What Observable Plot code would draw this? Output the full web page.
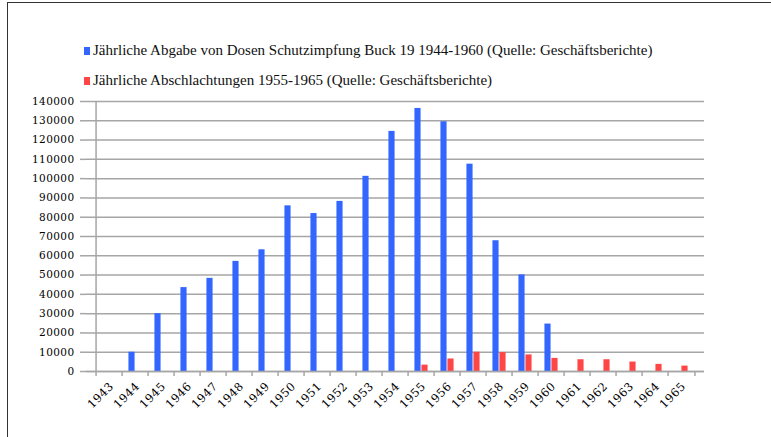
<!DOCTYPE html>
<html><head><meta charset="utf-8">
<script src="https://cdn.jsdelivr.net/npm/d3@7"></script>
<script src="https://cdn.jsdelivr.net/npm/@observablehq/plot@0.6"></script>
<style>
body{margin:0;background:#fff}
#wrap{position:relative;width:771px;height:437px;overflow:hidden;font-family:"Liberation Serif",serif;background:#fff}
#frame{position:absolute;left:7px;top:2px;right:-5px;bottom:-5px;border-left:1.5px solid #333;border-top:1.5px solid #333}
#chart{position:absolute;left:0;top:0}
#chart svg text{font-family:"DejaVu Serif",serif !important;letter-spacing:0.4px;fill:#000}
.leg{position:absolute;left:84px;font-size:15px;color:#111;white-space:nowrap;display:flex;align-items:center;line-height:1}
.sw{display:inline-block;width:6px;height:8px;margin-right:3px}
</style></head><body>
<div id="wrap"><div id="frame"></div><div id="chart"></div><div id="legend"></div></div>
<script>
const years = ["1943","1944","1945","1946","1947","1948","1949","1950","1951","1952","1953","1954","1955","1956","1957","1958","1959","1960","1961","1962","1963","1964","1965"];
const vaccineLabel = "Jährliche Abgabe von Dosen Schutzimpfung Buck 19 1944-1960 (Quelle: Geschäftsberichte)";
const slaughterLabel = "Jährliche Abschlachtungen 1955-1965 (Quelle: Geschäftsberichte)";
const vaccine = [null,10000,30000,43500,48300,57100,63100,85900,81900,88200,101200,124500,136400,129500,107500,67800,50100,24600,null,null,null,null,null];
const slaughter = [null,null,null,null,null,null,null,null,null,null,null,null,3300,6500,10000,9800,8600,6800,6100,6100,4900,3700,2800];
const yTicks = d3.range(0, 140001, 10000);
const colors = ["#3366ff", "#ff4646"];

const W = 771, H = 437, mL = 86, mR = 67, mT = 101, mB = 66;
const step = (W - mL - mR) / years.length;
const bw = 7;
const gray = "#a6a6a6";
const font = "DejaVu Serif, serif";

const vData = years.map((y, i) => ({year: y, value: vaccine[i]})).filter(d => d.value != null);
const sData = years.map((y, i) => ({year: y, value: slaughter[i]})).filter(d => d.value != null);

const chart = Plot.plot({
  width: W, height: H,
  marginLeft: mL, marginRight: mR, marginTop: mT, marginBottom: mB,
  style: {fontFamily: font, fontSize: "10px", color: "#000", background: "transparent"},
  x: {domain: years, padding: 0, label: null},
  y: {domain: [0, 140000], label: null},
  marks: [
    Plot.gridY(yTicks, {stroke: gray, strokeOpacity: 1, strokeWidth: 1.5}),
    Plot.axisY(yTicks, {tickSize: 6, tickPadding: 6, stroke: gray, strokeWidth: 1.5, tickFormat: d3.format("d"), fontSize: 10.5, fontFamily: font, label: null}),
    Plot.ruleX([years[0]], {dx: -step / 2, y1: 0, y2: 140000, stroke: gray, strokeWidth: 1.5}),
    Plot.barY(vData, {x: "year", y: "value", fill: colors[0], insetLeft: step / 2 - bw, insetRight: step / 2}),
    Plot.barY(sData, {x: "year", y: "value", fill: colors[1], insetLeft: step / 2, insetRight: step / 2 - bw}),
    Plot.ruleY([0], {stroke: gray, strokeWidth: 1.5}),
    Plot.axisX({tickSize: 5, dx: -step / 2, tickFormat: () => "", stroke: gray, strokeWidth: 1.5, label: null}),
    Plot.axisX([years[years.length - 1]], {tickSize: 5, dx: step / 2, tickFormat: () => "", stroke: gray, strokeWidth: 1.5, label: null}),
    Plot.axisX({tickSize: 0, tickPadding: 13, tickRotate: -45, fontSize: 11.5, fontFamily: font, dx: 2, label: null})
  ]
});
document.getElementById("chart").appendChild(chart);

const legend = document.getElementById("legend");
[[vaccineLabel, colors[0], 43], [slaughterLabel, colors[1], 73]].forEach(([t, c, top]) => {
  const d = document.createElement("div");
  d.className = "leg";
  d.style.top = top + "px";
  d.innerHTML = `<span class="sw" style="background:${c}"></span><span>${t}</span>`;
  legend.appendChild(d);
});
</script>
</body></html>
